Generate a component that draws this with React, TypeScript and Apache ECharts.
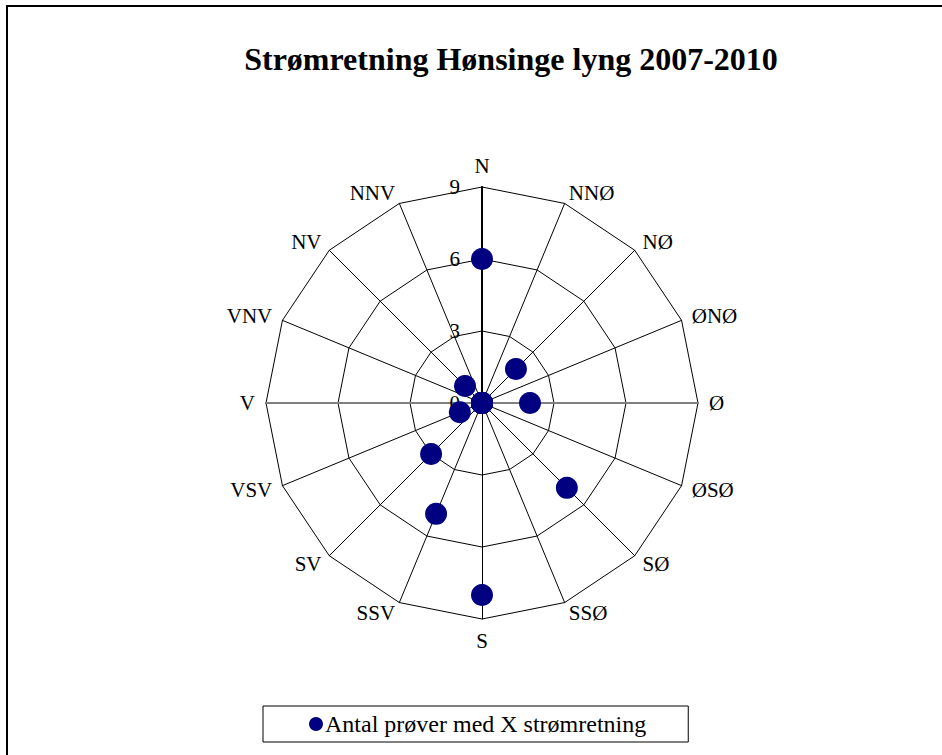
import React, { useEffect, useRef } from "react";
import * as echarts from "echarts";

// Directions in clockwise order starting at north
const directions = ["N", "NNØ", "NØ", "ØNØ", "Ø", "ØSØ", "SØ", "SSØ", "S", "SSV", "SV", "VSV", "V", "VNV", "NV", "NNV"];
// Number of samples per direction
const counts = [6, 0, 2, 0, 2, 0, 5, 0, 8, 5, 3, 1, 0, 0, 1, 0];
const axisMax = 9;
const tickStep = 3;
const titleText = "Strømretning Hønsinge lyng 2007-2010";
const seriesName = "Antal prøver med X strømretning";

export default function App() {
  const ref = useRef<HTMLDivElement>(null);
  useEffect(() => {
    document.body.style.margin = "0";
    const chart = echarts.init(ref.current!, null, { renderer: "svg" });
    // radar goes counter-clockwise; reorder so labels run clockwise
    const order = [0, ...Array.from({ length: directions.length - 1 }, (_, i) => directions.length - 1 - i)];
    const indicators = order.map((i) => ({ name: directions[i], max: axisMax, min: 0 }));
    const values = order.map((i) => counts[i]);
    const center = [482, 403];
    const radius = 216;
    const font = "'Liberation Serif', 'Times New Roman', serif";
    chart.setOption({
      animation: false,
      backgroundColor: "#ffffff",
      title: {
        text: titleText,
        left: 506,
        textAlign: "center",
        top: 38,
        textStyle: { fontFamily: font, fontSize: 32, fontWeight: "bold", color: "#000" },
      },
      graphic: [
        {
          type: "rect",
          shape: { x: 7, y: 6, width: 3000, height: 3000 },
          style: { fill: "none", stroke: "#000", lineWidth: 2 },
          silent: true,
        },
      ],
      legend: {
        left: 263,
        top: 706,
        data: [seriesName],
        icon: "circle",
        itemWidth: 14,
        itemHeight: 14,
        itemGap: 5,
        padding: [6, 42, 6, 46],
        borderColor: "#000",
        borderWidth: 1,
        textStyle: { fontFamily: font, fontSize: 24, color: "#000", padding: [0, 0, 0, -3] },
      },
      radar: [
        {
          center,
          radius,
          startAngle: 90,
          shape: "polygon",
          splitNumber: axisMax / tickStep,
          indicator: indicators,
          axisName: { color: "#000", fontFamily: font, fontSize: 21 },
          nameGap: 11,
          axisLine: { lineStyle: { color: "#000", width: 1 } },
          splitLine: { lineStyle: { color: "#000", width: 1 } },
          splitArea: { show: false },
          axisTick: { show: false },
          axisLabel: { show: false },
        },
        {
          center,
          radius,
          startAngle: 0,
          shape: "polygon",
          indicator: [
            { name: "", max: axisMax },
            { name: "", max: axisMax },
          ],
          axisName: { show: false },
          axisLine: { lineStyle: { color: "#808080", width: 2 } },
          splitLine: { show: false },
          splitArea: { show: false },
          axisTick: { show: false },
          axisLabel: { show: false },
        },
      ],
      polar: { center, radius },
      angleAxis: { type: "value", startAngle: 90, show: false, min: 0, max: 360 },
      radiusAxis: {
        type: "value",
        min: 0,
        max: axisMax,
        interval: tickStep,
        axisLine: { show: true, lineStyle: { color: "#000", width: 2 } },
        axisTick: { show: false },
        splitLine: { show: false },
        axisLabel: { fontFamily: font, fontSize: 21, color: "#000", margin: 22 },
        z: 3,
      },
      series: [
        {
          type: "radar",
          radarIndex: 0,
          name: seriesName,
          symbol: "circle",
          symbolSize: 22,
          itemStyle: { color: "#000080" },
          lineStyle: { width: 0, opacity: 0 },
          data: [{ value: values, name: seriesName }],
          z: 5,
        },
      ],
    });
    return () => chart.dispose();
  }, []);
  return <div ref={ref} style={{ width: 942, height: 755 }} />;
}
